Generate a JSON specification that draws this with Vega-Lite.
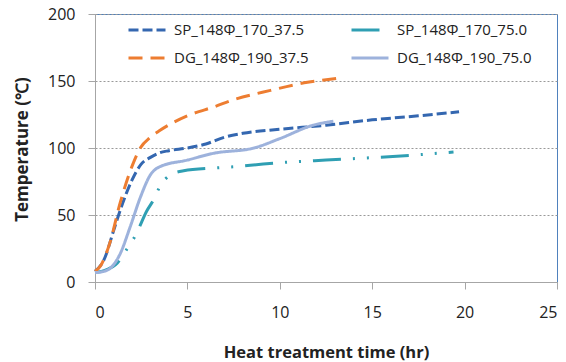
{
  "$schema": "https://vega.github.io/schema/vega-lite/v6.json",
  "width": 462,
  "height": 268,
  "autosize": "none",
  "padding": {"left": 95, "top": 14, "right": 9, "bottom": 80},
  "background": "white",
  "config": {
    "view": {"stroke": "#4f81bd", "strokeWidth": 1},
    "font": "Open Sans"
  },
  "data": {
    "values": [
      {"series": "SP_148Φ_170_37.5", "t": 0, "T": 8},
      {"series": "SP_148Φ_170_37.5", "t": 0.5, "T": 17},
      {"series": "SP_148Φ_170_37.5", "t": 1, "T": 38},
      {"series": "SP_148Φ_170_37.5", "t": 1.4, "T": 55},
      {"series": "SP_148Φ_170_37.5", "t": 2, "T": 76},
      {"series": "SP_148Φ_170_37.5", "t": 2.5, "T": 88},
      {"series": "SP_148Φ_170_37.5", "t": 3, "T": 93},
      {"series": "SP_148Φ_170_37.5", "t": 3.5, "T": 96.5},
      {"series": "SP_148Φ_170_37.5", "t": 4, "T": 98},
      {"series": "SP_148Φ_170_37.5", "t": 5, "T": 100},
      {"series": "SP_148Φ_170_37.5", "t": 6, "T": 103},
      {"series": "SP_148Φ_170_37.5", "t": 7, "T": 108},
      {"series": "SP_148Φ_170_37.5", "t": 8, "T": 111},
      {"series": "SP_148Φ_170_37.5", "t": 10, "T": 114},
      {"series": "SP_148Φ_170_37.5", "t": 12.5, "T": 117},
      {"series": "SP_148Φ_170_37.5", "t": 15, "T": 121},
      {"series": "SP_148Φ_170_37.5", "t": 17.5, "T": 124},
      {"series": "SP_148Φ_170_37.5", "t": 19.7, "T": 127},

      {"series": "SP_148Φ_170_75.0", "t": 0, "T": 7},
      {"series": "SP_148Φ_170_75.0", "t": 0.6, "T": 9},
      {"series": "SP_148Φ_170_75.0", "t": 1.2, "T": 14},
      {"series": "SP_148Φ_170_75.0", "t": 1.7, "T": 24},
      {"series": "SP_148Φ_170_75.0", "t": 2.2, "T": 35},
      {"series": "SP_148Φ_170_75.0", "t": 2.8, "T": 53},
      {"series": "SP_148Φ_170_75.0", "t": 3.2, "T": 62},
      {"series": "SP_148Φ_170_75.0", "t": 3.5, "T": 71},
      {"series": "SP_148Φ_170_75.0", "t": 4.1, "T": 80},
      {"series": "SP_148Φ_170_75.0", "t": 4.8, "T": 83},
      {"series": "SP_148Φ_170_75.0", "t": 6.4, "T": 85},
      {"series": "SP_148Φ_170_75.0", "t": 7.5, "T": 86},
      {"series": "SP_148Φ_170_75.0", "t": 9.1, "T": 88},
      {"series": "SP_148Φ_170_75.0", "t": 10, "T": 89},
      {"series": "SP_148Φ_170_75.0", "t": 12.5, "T": 91},
      {"series": "SP_148Φ_170_75.0", "t": 14.6, "T": 92.5},
      {"series": "SP_148Φ_170_75.0", "t": 17, "T": 94.5},
      {"series": "SP_148Φ_170_75.0", "t": 19.4, "T": 97},

      {"series": "DG_148Φ_190_37.5", "t": 0, "T": 8},
      {"series": "DG_148Φ_190_37.5", "t": 0.3, "T": 12},
      {"series": "DG_148Φ_190_37.5", "t": 0.8, "T": 29},
      {"series": "DG_148Φ_190_37.5", "t": 1.36, "T": 59},
      {"series": "DG_148Φ_190_37.5", "t": 2.05, "T": 88},
      {"series": "DG_148Φ_190_37.5", "t": 2.45, "T": 100},
      {"series": "DG_148Φ_190_37.5", "t": 3, "T": 108},
      {"series": "DG_148Φ_190_37.5", "t": 3.5, "T": 113},
      {"series": "DG_148Φ_190_37.5", "t": 5, "T": 124},
      {"series": "DG_148Φ_190_37.5", "t": 6.5, "T": 131},
      {"series": "DG_148Φ_190_37.5", "t": 7.5, "T": 136},
      {"series": "DG_148Φ_190_37.5", "t": 9.5, "T": 143},
      {"series": "DG_148Φ_190_37.5", "t": 11.5, "T": 149},
      {"series": "DG_148Φ_190_37.5", "t": 13.1, "T": 152},

      {"series": "DG_148Φ_190_75.0", "t": 0, "T": 7},
      {"series": "DG_148Φ_190_75.0", "t": 0.5, "T": 8},
      {"series": "DG_148Φ_190_75.0", "t": 0.8, "T": 10},
      {"series": "DG_148Φ_190_75.0", "t": 1.36, "T": 21},
      {"series": "DG_148Φ_190_75.0", "t": 1.9, "T": 41},
      {"series": "DG_148Φ_190_75.0", "t": 2.45, "T": 63},
      {"series": "DG_148Φ_190_75.0", "t": 3, "T": 80},
      {"series": "DG_148Φ_190_75.0", "t": 3.5, "T": 86},
      {"series": "DG_148Φ_190_75.0", "t": 5, "T": 91},
      {"series": "DG_148Φ_190_75.0", "t": 6.4, "T": 96},
      {"series": "DG_148Φ_190_75.0", "t": 8.6, "T": 100},
      {"series": "DG_148Φ_190_75.0", "t": 10, "T": 107},
      {"series": "DG_148Φ_190_75.0", "t": 11.8, "T": 117},
      {"series": "DG_148Φ_190_75.0", "t": 12.9, "T": 120}
    ]
  },
  "mark": {"type": "line", "interpolate": "monotone", "strokeWidth": 3},
  "encoding": {
    "x": {
      "field": "t", "type": "quantitative",
      "scale": {"domain": [0, 25], "nice": false},
      "axis": {
        "title": "Heat treatment time (hr)",
        "values": [0, 5, 10, 15, 20, 25],
        "grid": false,
        "domainColor": "#a6a6a6", "tickColor": "#a6a6a6", "tickSize": 7,
        "labelFont": "Open Sans", "labelFontSize": 16, "labelColor": "#222",
        "labelPadding": 15,
        "titleFont": "Open Sans", "titleFontSize": 16.5, "titleFontWeight": "bold", "titleColor": "#222",
        "titlePadding": 24
      }
    },
    "y": {
      "field": "T", "type": "quantitative",
      "scale": {"domain": [0, 200], "nice": false},
      "axis": {
        "title": "Temperature (℃)",
        "values": [0, 50, 100, 150, 200],
        "gridColor": "#999999", "gridDash": [2, 2], "gridWidth": 1,
        "domainColor": "#a6a6a6", "tickColor": "#a6a6a6", "tickSize": 7,
        "labelFont": "Open Sans", "labelFontSize": 16, "labelColor": "#222",
        "labelPadding": 13,
        "titleFont": "Open Sans", "titleFontSize": 17, "titleFontWeight": "bold", "titleColor": "#222",
        "titleX": -64, "titleY": 135
      }
    },
    "color": {
      "field": "series", "type": "nominal",
      "scale": {
        "domain": ["SP_148Φ_170_37.5", "SP_148Φ_170_75.0", "DG_148Φ_190_37.5", "DG_148Φ_190_75.0"],
        "range": ["#3467b0", "#2f9fb3", "#ed7d31", "#9db2dc"]
      },
      "legend": {
        "orient": "none", "legendX": 32, "legendY": -4,
        "title": null, "columns": 2, "direction": "horizontal",
        "symbolType": "stroke", "symbolSize": 1369, "symbolStrokeWidth": 3,
        "labelFont": "Open Sans", "labelFontSize": 15, "labelColor": "#222",
        "labelOffset": 7, "columnPadding": 36, "rowPadding": -6
      }
    },
    "strokeDash": {
      "field": "series", "type": "nominal",
      "scale": {
        "domain": ["SP_148Φ_170_37.5", "SP_148Φ_170_75.0", "DG_148Φ_190_37.5", "DG_148Φ_190_75.0"],
        "range": [[10, 4], [28, 12, 2, 12, 2, 12], [14, 8], [1, 0]]
      }
    }
  }
}
